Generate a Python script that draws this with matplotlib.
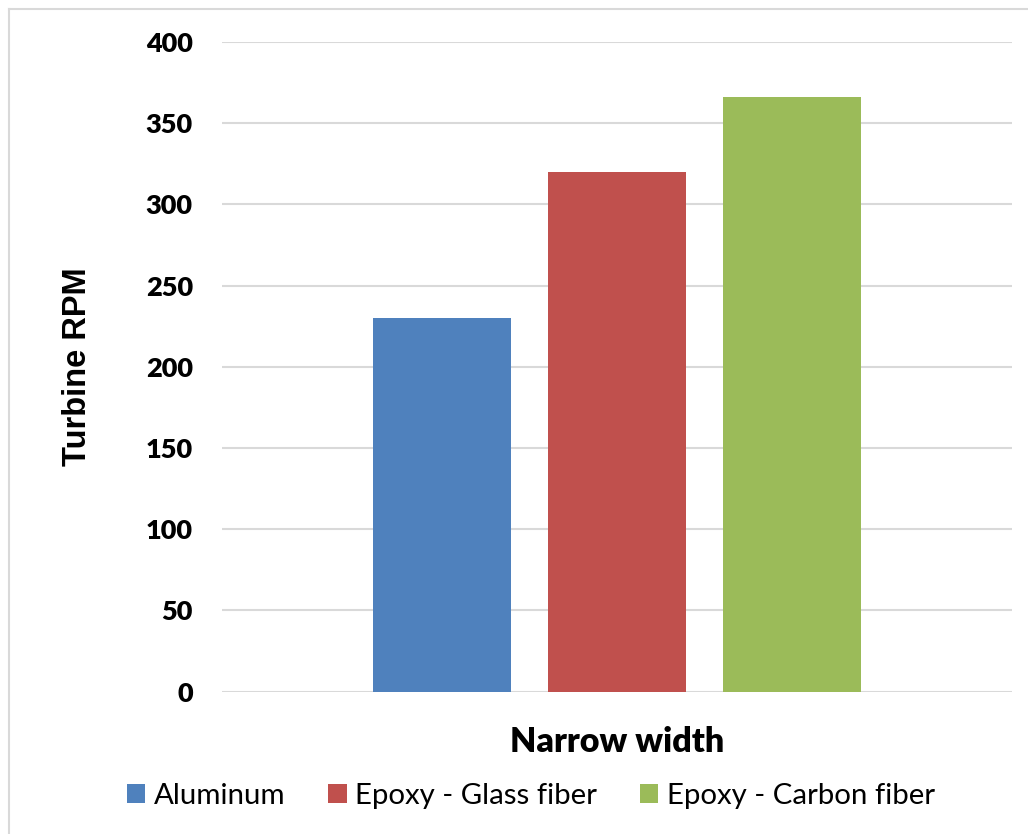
import matplotlib
matplotlib.use("Agg")
import matplotlib.pyplot as plt
from matplotlib.lines import Line2D

# data
materials = ["Aluminum", "Epoxy - Glass fiber", "Epoxy - Carbon fiber"]
rpm = [230, 320, 366]
colors = ["#4F81BD", "#C0504D", "#9BBB59"]
yticks = [0, 50, 100, 150, 200, 250, 300, 350, 400]

plt.rcParams["font.family"] = ["Lato", "DejaVu Sans"]

fig = plt.figure(figsize=(10.28, 8.34), dpi=100)
ax = fig.add_axes([222 / 1028, 1 - 691.7 / 834, 790 / 1028, (691.7 - 42) / 834])

positions = [-1, 0, 1]
for pos, val, col, name in zip(positions, rpm, colors, materials):
    ax.bar(pos, val, width=0.789, color=col, label=name, zorder=3)

ax.set_xlim(-2.257, 2.257)
ax.set_ylim(0, 400)
ax.set_yticks(yticks)
ax.set_yticklabels([str(t) for t in yticks], fontsize=19.5, fontweight="heavy")
ax.set_xticks([])
ax.tick_params(axis="y", length=0, pad=21)
ax.grid(axis="y", color="#D9D9D9", linewidth=1.5, zorder=0)
for s in ax.spines.values():
    s.set_visible(False)
ax.axhline(0, color="#D9D9D9", linewidth=2, zorder=2)

ax.set_xlabel("Narrow width", fontsize=24.5, fontweight="heavy", labelpad=25)
ax.set_ylabel("Turbine RPM", fontsize=23.5, fontweight="bold",
              family=["Liberation Sans", "DejaVu Sans"], labelpad=38)

fig.legend(loc="center", bbox_to_anchor=(531 / 1028, 1 - 796 / 834), ncol=3,
           frameon=False, fontsize=21.2, handlelength=0.62, handleheight=0.62,
           columnspacing=1.45, handletextpad=0.3)

# light chart border (top and left edges visible)
fig.add_artist(Line2D([9 / 1028, 1.0], [1 - 9 / 834, 1 - 9 / 834], color="#D9D9D9", linewidth=1.5))
fig.add_artist(Line2D([9 / 1028, 9 / 1028], [0.0, 1 - 9 / 834], color="#D9D9D9", linewidth=1.5))

fig.savefig("out.png", dpi=100)
